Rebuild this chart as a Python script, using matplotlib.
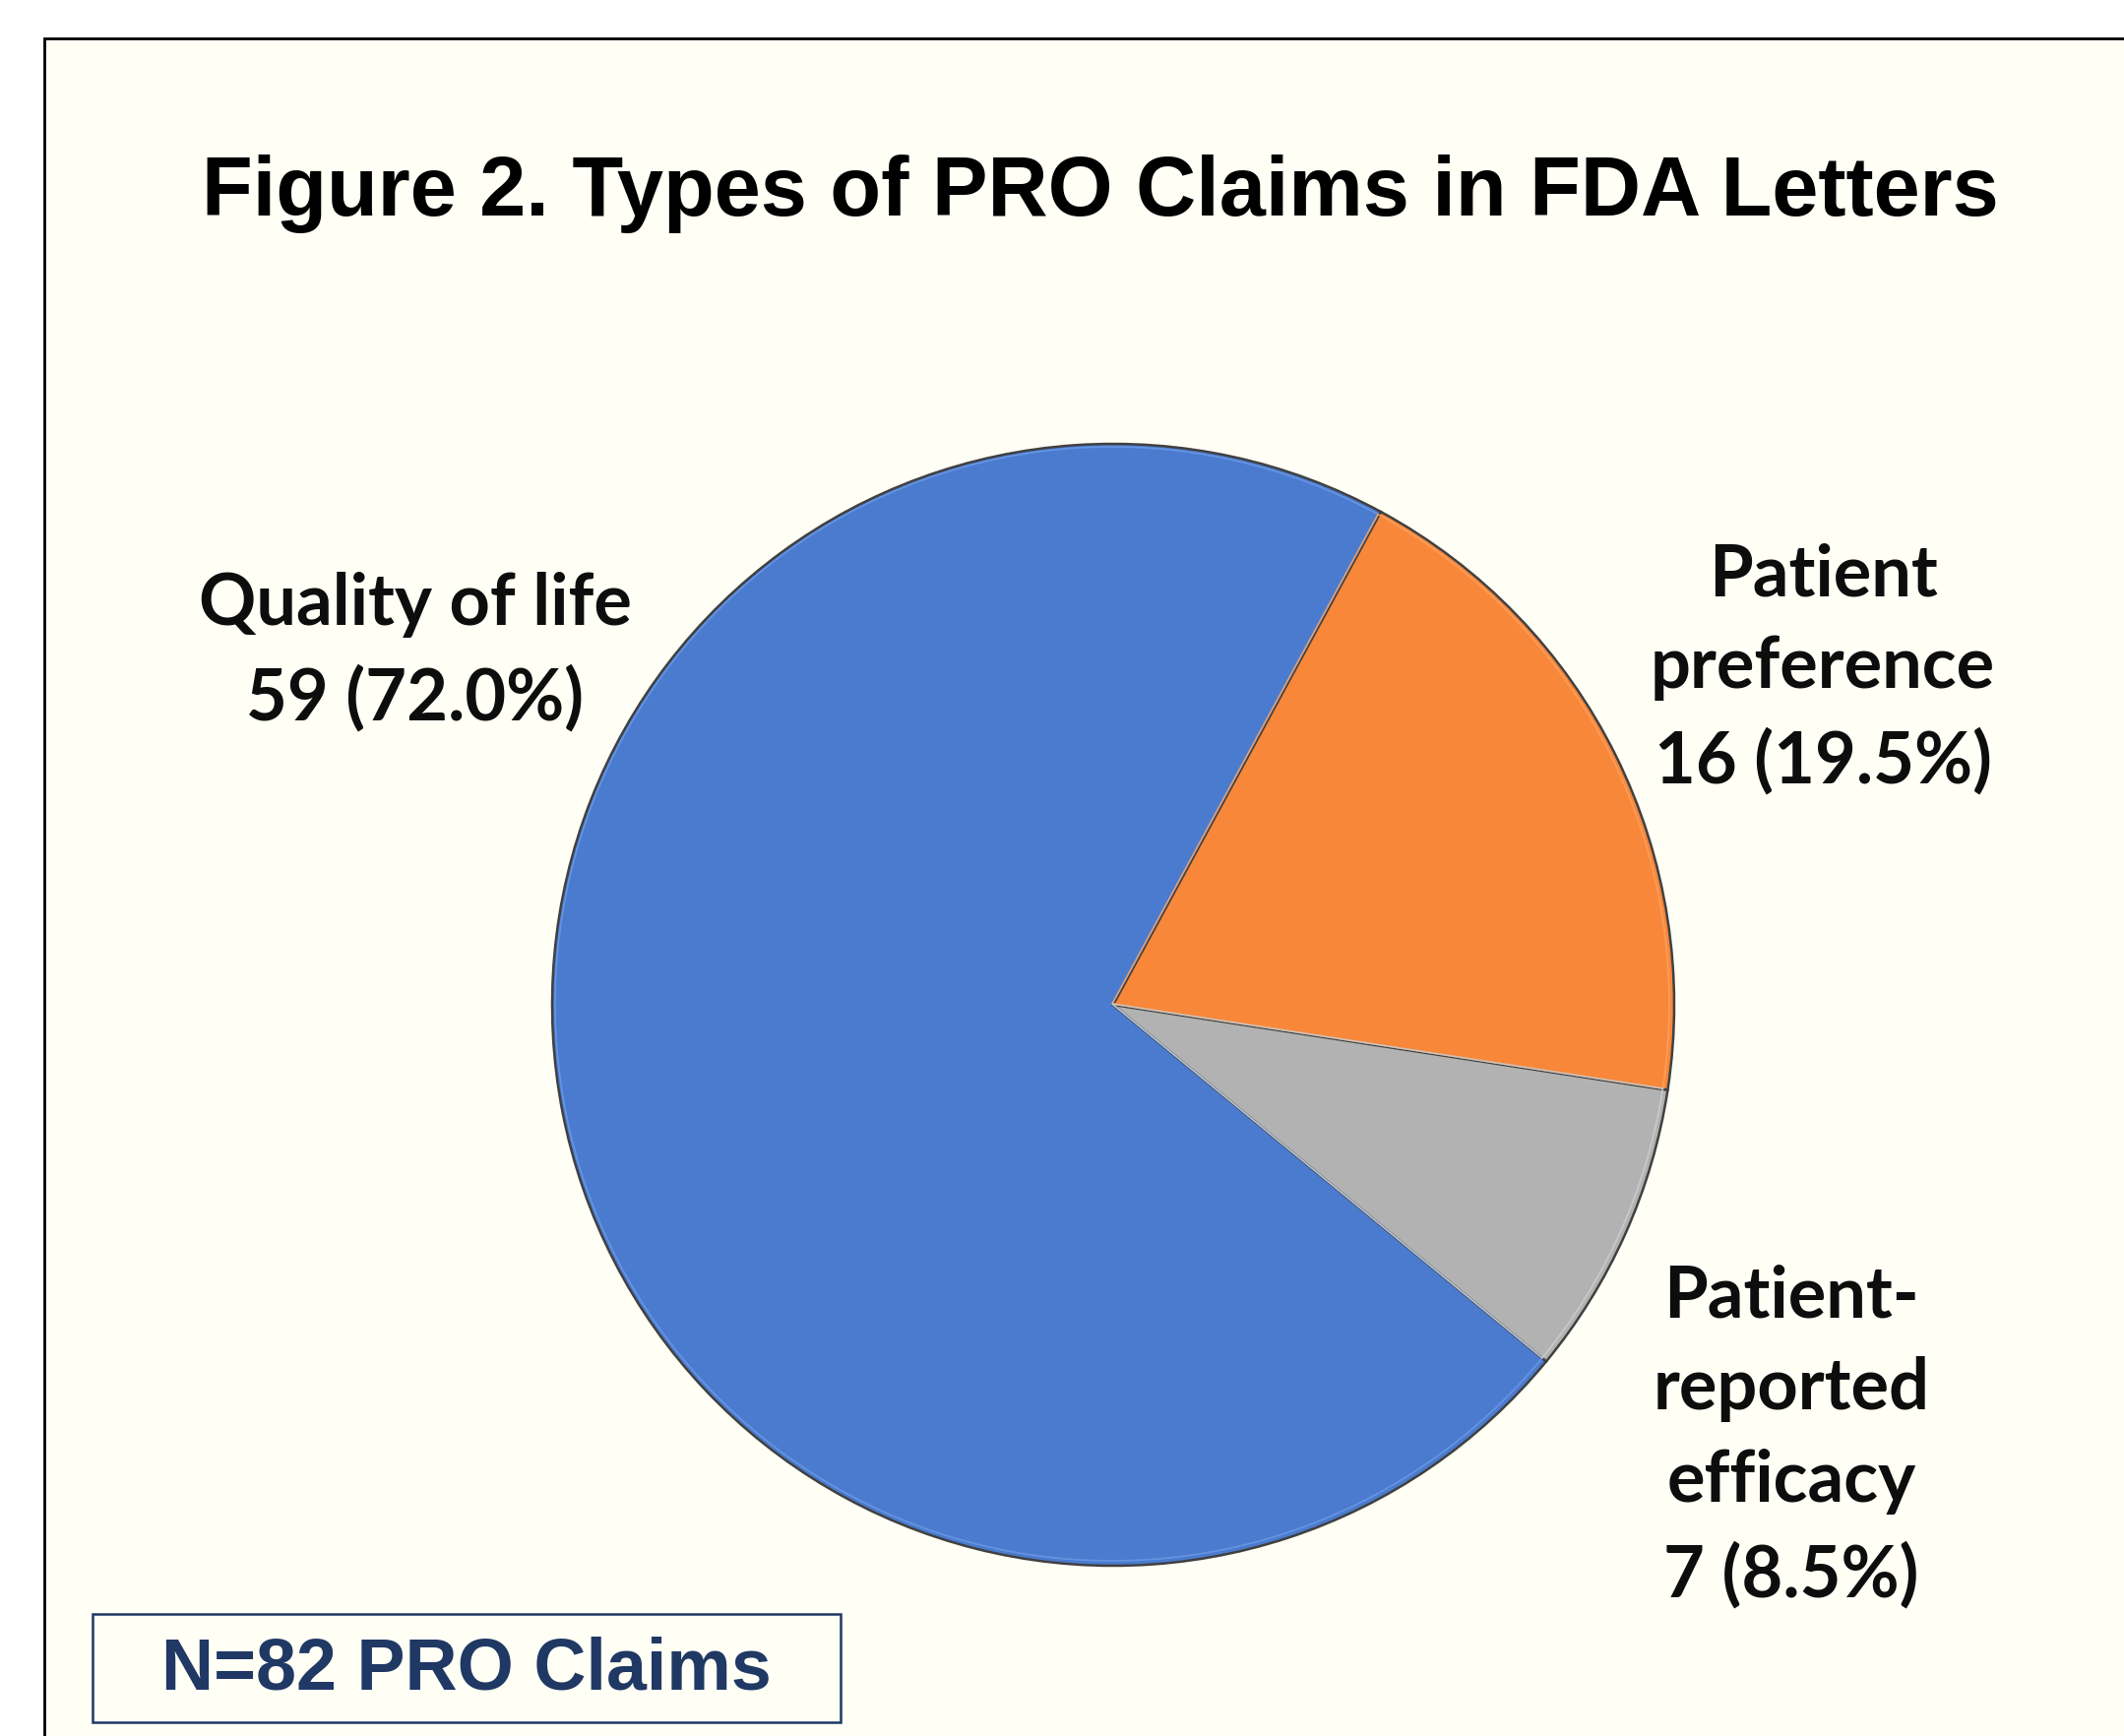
import matplotlib
matplotlib.use("Agg")
import matplotlib.pyplot as plt
from matplotlib.patches import Rectangle

# ---- data ----
categories = ["Quality of life", "Patient preference", "Patient-reported efficacy"]
counts = [59, 16, 7]
percents = [72.0, 19.5, 8.5]
label_texts = ["Quality of life\n59 (72.0%)",
               "Patient\npreference\n16 (19.5%)",
               "Patient-\nreported\nefficacy\n7 (8.5%)"]
colors = ["#4A7BCF", "#F8873A", "#B2B2B2"]
highlight = ["#6E9BE6", "#FBA464", "#D0D0D0"]
title = "Figure 2. Types of PRO Claims in FDA Letters"
note = "N=82 PRO Claims"

W, H = 2158, 1764
DPI = 100
fig = plt.figure(figsize=(W / DPI, H / DPI), dpi=DPI, facecolor="white")
ax = fig.add_axes([0, 0, 1, 1])

def Y(y):  # convert top-down pixel to data y
    return H - y

# panel background
panel = Rectangle((45, -50), W + 100, Y(39) + 50, facecolor="#FFFFF6",
                  edgecolor="black", linewidth=2.0, zorder=0)
ax.add_patch(panel)

# pie
cx, cy, r = 1131, 1021, 570
total = sum(counts)
start = 61.5 + 360.0 * counts[0] / total
wedges, _ = ax.pie(counts, colors=colors, startangle=start, counterclock=False,
                   center=(cx, Y(cy)), radius=r,
                   wedgeprops=dict(edgecolor="#404040", linewidth=1.8))
for w in wedges:
    w.set_zorder(2)
# subtle bevel highlight just inside each wedge
hw, _ = ax.pie(counts, colors=["none"] * 3, startangle=start, counterclock=False,
               center=(cx - 1, Y(cy) + 1), radius=r - 4,
               wedgeprops=dict(linewidth=1.2, fill=False))
for w, c in zip(hw, highlight):
    w.set_edgecolor(c)
    w.set_alpha(0.8)
    w.set_zorder(3)

ax.set_xlim(0, W)
ax.set_ylim(0, H)
ax.set_aspect("equal")
ax.axis("off")

# title
ax.text(1118, Y(197), title, ha="center", va="center", fontsize=61,
        fontweight="bold", family="Liberation Sans", color="black", zorder=5)

# labels
label_pos = [(422, 663), (1852, 680), (1820, 1460)]
for txt, (lx, ly) in zip(label_texts, label_pos):
    ax.text(lx, Y(ly), txt, ha="center", va="center", fontsize=52,
            fontweight="bold", family="Lato", color="#0D0D0D",
            linespacing=1.5, multialignment="center", zorder=5)

# N box
box = Rectangle((94, Y(1750)), 760, 110, facecolor="#FFFFF6",
                edgecolor="#1F3864", linewidth=1.8, zorder=4)
ax.add_patch(box)
ax.text(474, Y(1697), note, ha="center", va="center", fontsize=53,
        fontweight="bold", family="Liberation Sans", color="#203864", zorder=5)

fig.savefig("out.png", dpi=DPI, facecolor="white")
